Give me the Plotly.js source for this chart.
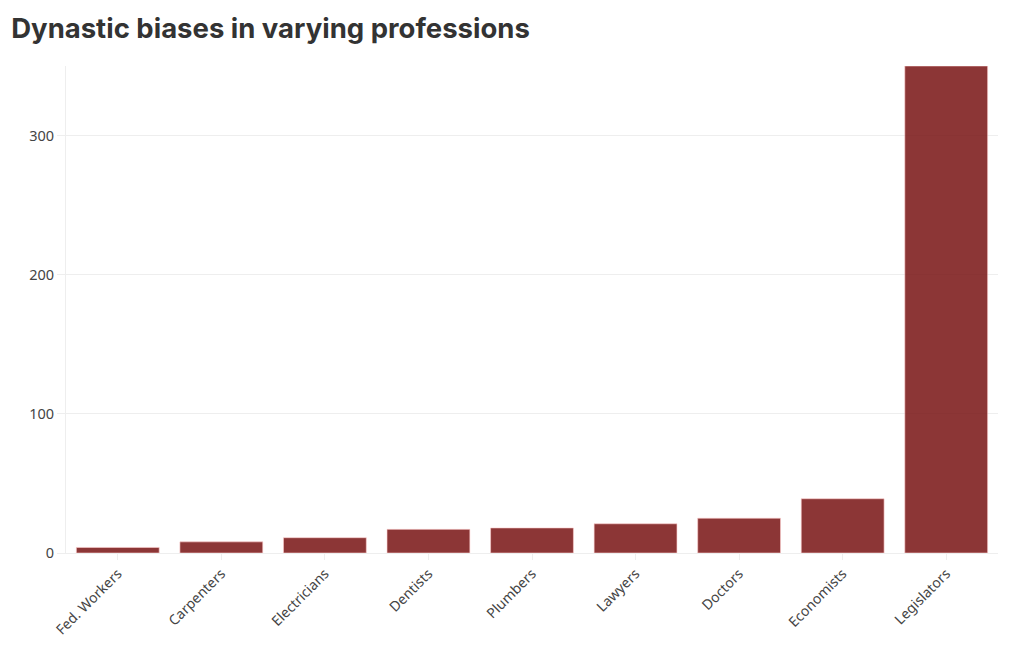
<!DOCTYPE html>
<html>
<head>
<meta charset="utf-8">
<script src="https://cdn.plot.ly/plotly-3.0.1.min.js"></script>
<style>html,body{margin:0;padding:0;background:#fff;}#chart{width:1020px;height:650px;}</style>
</head>
<body>
<div id="chart"></div>
<script>
const categories = ["Fed. Workers", "Carpenters", "Electricians", "Dentists", "Plumbers", "Lawyers", "Doctors", "Economists", "Legislators"];
const values = [4, 8, 11, 17, 18, 21, 25, 39, 350];
const yTicks = [0, 100, 200, 300];

const trace = {
  type: "bar",
  x: categories,
  y: values,
  marker: {color: "rgb(120,20,20)", opacity: 0.85, line: {color: "rgba(255,200,200,0.6)", width: 1}},
  hoverinfo: "x+y"
};

const layout = {
  width: 1020,
  height: 650,
  margin: {l: 66, r: 22, t: 66, b: 97},
  paper_bgcolor: "#fff",
  plot_bgcolor: "#fff",
  bargap: 0.2,
  showlegend: false,
  font: {family: "'Noto Sans', 'Open Sans', sans-serif", color: "#444", size: 13},
  title: {
    text: "<b>Dynastic biases in varying professions</b>",
    x: 0.011, xanchor: "left", y: 0.957, yanchor: "middle",
    font: {family: "Inter, 'Noto Sans', sans-serif", size: 27.5, color: "#333"}
  },
  xaxis: {
    type: "category",
    tickangle: -45,
    ticks: "outside", ticklen: 6, tickcolor: "#eee",
    showline: true, linecolor: "#eee",
    showgrid: false,
    tickfont: {size: 14, color: "#444"}
  },
  yaxis: {
    range: [0, 350],
    tickvals: yTicks,
    ticktext: yTicks.map(String),
    ticks: "outside", ticklen: 8, tickcolor: "#eee",
    showline: true, linecolor: "#eee",
    gridcolor: "#eee",
    zeroline: true, zerolinecolor: "#eee",
    tickfont: {size: 14.5, color: "#444"}
  }
};

Plotly.newPlot("chart", [trace], layout, {displayModeBar: false, responsive: false});
</script>
</body>
</html>
